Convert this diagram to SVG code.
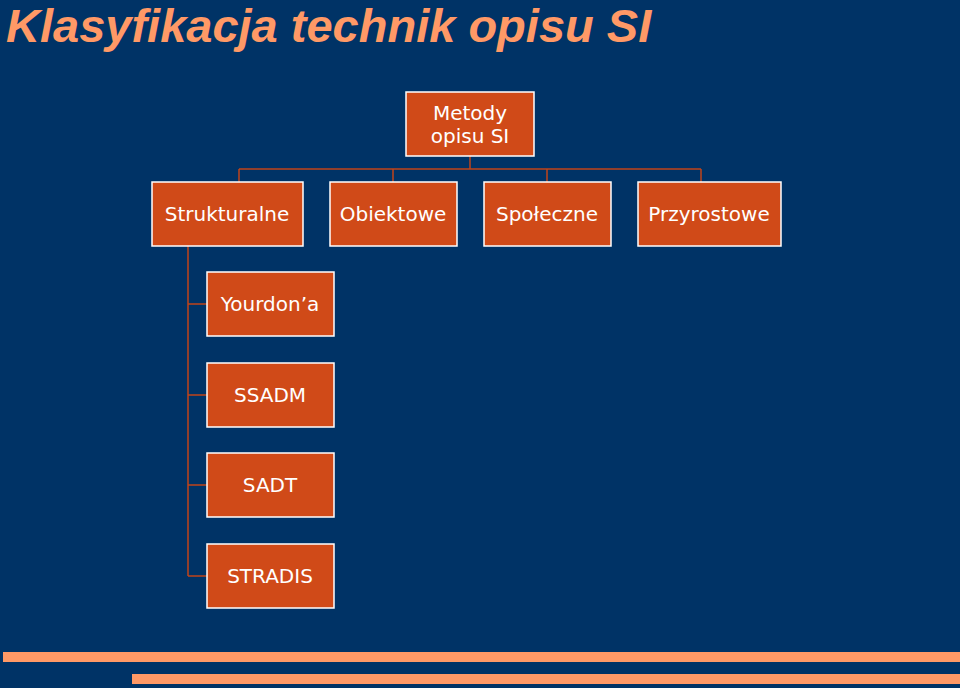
<svg xmlns="http://www.w3.org/2000/svg" width="960" height="688" viewBox="0 0 960 688">
<style>
.b{fill:#d04a18;stroke:#ffffff;stroke-width:1.5}
.t{font-family:"DejaVu Sans",sans-serif;font-size:20px;fill:#ffffff;text-anchor:middle}
.c{fill:none;stroke:#c0441a;stroke-width:1.5}
</style>
<rect width="960" height="688" fill="#003366"/>
<text x="6" y="42" font-family="Liberation Sans, sans-serif" font-size="47" font-weight="bold" font-style="italic" fill="#ff9966">Klasyfikacja technik opisu SI</text>
<rect x="3" y="652" width="957" height="10" fill="#ff9966"/>
<rect x="132" y="674" width="828" height="10" fill="#ff9966"/>
<g id="connectors" class="c">
<path d="M470 156V169M239 169H701M239 169V182M393 169V182M547 169V182M701 169V182"/>
<path d="M188 246V576M188 304H207M188 395H207M188 485H207M188 576H207"/>
</g>
<g id="metody"><rect class="b" x="406" y="92" width="128" height="64"/><text class="t" x="470" y="120">Metody</text><text class="t" x="470" y="143">opisu SI</text></g>
<g id="strukturalne"><rect class="b" x="152" y="182" width="151" height="64"/><text class="t" x="227" y="221">Strukturalne</text></g>
<g id="obiektowe"><rect class="b" x="330" y="182" width="127" height="64"/><text class="t" x="393" y="221">Obiektowe</text></g>
<g id="spoleczne"><rect class="b" x="484" y="182" width="127" height="64"/><text class="t" x="547" y="221">Społeczne</text></g>
<g id="przyrostowe"><rect class="b" x="638" y="182" width="143" height="64"/><text class="t" x="709" y="221">Przyrostowe</text></g>
<g id="yourdon"><rect class="b" x="207" y="272" width="127" height="64"/><text class="t" x="270" y="311">Yourdon’a</text></g>
<g id="ssadm"><rect class="b" x="207" y="363" width="127" height="64"/><text class="t" x="270" y="402">SSADM</text></g>
<g id="sadt"><rect class="b" x="207" y="453" width="127" height="64"/><text class="t" x="270" y="492">SADT</text></g>
<g id="stradis"><rect class="b" x="207" y="544" width="127" height="64"/><text class="t" x="270" y="583">STRADIS</text></g>
</svg>
